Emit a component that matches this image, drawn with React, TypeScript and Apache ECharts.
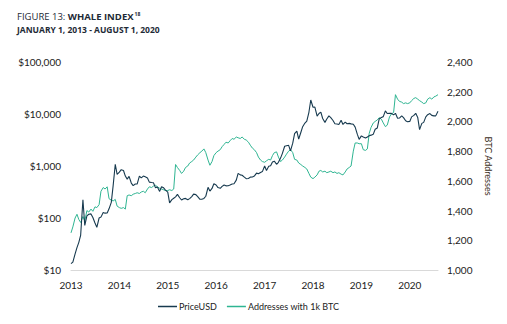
import React, { useEffect, useRef } from "react";
import * as echarts from "echarts";

// Semi-monthly samples (1st and 15th of each month), 2013-01-01 .. 2020-08-01
const price2013 = [13.3, 14.2, 20.4, 27, 34, 47, 225, 72, 110, 118, 120, 102, 80, 66, 100, 104, 128, 124, 125, 150, 200, 420, 1080, 690];
const price2014 = [760, 850, 820, 640, 560, 630, 470, 420, 450, 450, 640, 590, 640, 620, 590, 490, 480, 475, 380, 395, 325, 400, 380, 345];
const price2015 = [315, 195, 225, 240, 255, 285, 245, 222, 235, 238, 225, 236, 258, 288, 282, 258, 229, 230, 238, 262, 390, 330, 370, 455];
const price2016 = [432, 385, 372, 405, 432, 415, 418, 430, 450, 455, 535, 720, 675, 665, 610, 570, 575, 610, 615, 640, 730, 710, 750, 780];
const price2017 = [1000, 820, 985, 1010, 1190, 1240, 1080, 1180, 1420, 1750, 2400, 2450, 2500, 1950, 2750, 4200, 4700, 3300, 4400, 5700, 6700, 7300, 10800, 18600];
const price2018 = [13500, 13600, 9100, 10200, 10900, 8200, 6900, 8000, 9200, 8500, 7500, 6500, 6400, 6300, 7600, 6300, 7000, 6500, 6600, 6450, 6350, 5600, 4100, 3250];
const price2019 = [3800, 3600, 3450, 3620, 3820, 3920, 4100, 5100, 5400, 8000, 8600, 8900, 11500, 10200, 10300, 10300, 9600, 10300, 8300, 8350, 9200, 8500, 7400, 7100];
const price2020 = [7200, 8800, 9400, 10300, 8600, 5000, 6600, 6900, 8800, 9700, 10200, 9400, 9200, 9200, 11300];

const addr2013 = [1250, 1290, 1350, 1375, 1340, 1320, 1360, 1330, 1400, 1390, 1410, 1395, 1425, 1420, 1440, 1530, 1555, 1545, 1560, 1480, 1470, 1465, 1475, 1430];
const addr2014 = [1420, 1415, 1420, 1410, 1500, 1505, 1500, 1510, 1515, 1520, 1515, 1525, 1530, 1520, 1545, 1560, 1555, 1565, 1570, 1560, 1550, 1545, 1540, 1535];
const addr2015 = [1535, 1540, 1535, 1545, 1710, 1690, 1670, 1650, 1665, 1690, 1700, 1720, 1730, 1740, 1760, 1775, 1790, 1800, 1815, 1790, 1740, 1705, 1730, 1770];
const addr2016 = [1790, 1800, 1810, 1830, 1845, 1860, 1855, 1870, 1885, 1880, 1895, 1890, 1885, 1895, 1880, 1875, 1860, 1840, 1820, 1810, 1790, 1760, 1740, 1730];
const addr2017 = [1725, 1735, 1745, 1740, 1770, 1790, 1795, 1760, 1730, 1740, 1760, 1780, 1800, 1810, 1790, 1745, 1740, 1720, 1710, 1700, 1690, 1680, 1650, 1625];
const addr2018 = [1615, 1625, 1640, 1665, 1670, 1660, 1665, 1655, 1660, 1665, 1655, 1660, 1650, 1655, 1645, 1640, 1660, 1680, 1690, 1700, 1800, 1855, 1855, 1850];
const addr2019 = [1850, 1810, 1805, 1815, 1920, 1960, 1990, 2000, 2010, 2025, 2015, 1990, 1965, 1975, 2030, 2050, 2060, 2180, 2150, 2135, 2130, 2120, 2125, 2120];
const addr2020 = [2125, 2140, 2155, 2160, 2150, 2140, 2130, 2120, 2125, 2150, 2160, 2150, 2165, 2170, 2180];

const years = [2013, 2014, 2015, 2016, 2017, 2018, 2019, 2020];
const leftTicks = [10, 100, 1000, 10000, 100000];
const seriesNames = ["PriceUSD", "Addresses with 1k BTC"];

const priceValues = [...price2013, ...price2014, ...price2015, ...price2016, ...price2017, ...price2018, ...price2019, ...price2020];
const addrValues = [...addr2013, ...addr2014, ...addr2015, ...addr2016, ...addr2017, ...addr2018, ...addr2019, ...addr2020];

function buildDates(): string[] {
  const out: string[] = [];
  for (const y of years) {
    for (let m = 1; m <= 12; m++) {
      const mm = m < 10 ? "0" + m : "" + m;
      out.push(`${y}-${mm}-01`);
      if (y === 2020 && m === 8) return out;
      out.push(`${y}-${mm}-15`);
    }
  }
  return out;
}
const dates = buildDates();

const NAVY = "#173a4f";
const TEAL = "#2fb592";
const TEXT = "#222222";
const FONT = "Lato, 'Open Sans', sans-serif";
const TFONT = "'Open Sans', Lato, sans-serif";

export default function App() {
  const ref = useRef<HTMLDivElement>(null);
  useEffect(() => {
    if (!ref.current) return;
    const chart = echarts.init(ref.current, undefined, { renderer: "svg" });
    chart.setOption({
      animation: false,
      backgroundColor: "#ffffff",
      textStyle: { fontFamily: FONT },
      graphic: [
        {
          type: "text",
          left: 17,
          top: 11,
          style: {
            text: "{a|FIGURE 13: }{b|WHALE INDEX}{c|18}",
            rich: {
              a: { fontSize: 9.5, fontFamily: TFONT, fill: "#1d2a36" },
              b: { fontSize: 9.5, fontFamily: TFONT, fontWeight: "bold", fill: "#1d2a36" },
              c: { fontSize: 5, fontFamily: TFONT, fontWeight: "bold", fill: "#1d2a36", verticalAlign: "top", padding: [0, 0, 6, 1] },
            },
          },
        },
        {
          type: "text",
          left: 17,
          top: 25,
          style: {
            text: "JANUARY 1, 2013 - AUGUST 1, 2020",
            fontSize: 8.5,
            fontWeight: "bold",
            fontFamily: TFONT,
            fill: "#1d2a36",
          },
        },
      ],
      legend: {
        left: 153,
        top: 297,
        itemGap: 10,
        itemWidth: 19,
        itemHeight: 1.5,
        icon: "rect",
        textStyle: { fontSize: 9, color: TEXT, fontFamily: FONT, padding: [0, 0, 0, -3] },
        data: [
          { name: seriesNames[0], itemStyle: { color: NAVY } },
          { name: seriesNames[1], itemStyle: { color: TEAL } },
        ],
      },
      grid: { left: 71, right: 69, top: 62, bottom: 54 },
      xAxis: {
        type: "time",
        min: "2013-01-01",
        max: "2020-08-01",
        minInterval: 365 * 24 * 3600 * 1000,
        maxInterval: 366 * 24 * 3600 * 1000,
        axisLine: { show: true, lineStyle: { color: "#d9d9d9", width: 1 } },
        axisTick: { show: false },
        splitLine: { show: false },
        axisLabel: {
          formatter: "{yyyy}",
          fontSize: 10,
          color: TEXT,
          fontFamily: FONT,
          margin: 10,
          showMaxLabel: false,
        },
      },
      yAxis: [
        {
          type: "log",
          logBase: 10,
          min: leftTicks[0],
          max: leftTicks[leftTicks.length - 1],
          axisLine: { show: false },
          axisTick: { show: false },
          splitLine: { show: false },
          axisLabel: {
            fontSize: 10,
            color: TEXT,
            fontFamily: FONT,
            margin: 10,
            formatter: (v: number) => "$" + Math.round(v).toLocaleString("en-US"),
          },
        },
        {
          type: "value",
          min: 1000,
          max: 2400,
          interval: 200,
          position: "right",
          name: "BTC Addresses",
          nameLocation: "middle",
          nameRotate: -90,
          nameGap: 46,
          nameTextStyle: { fontSize: 9, color: "#3a2e22", fontFamily: FONT },
          axisLine: { show: false },
          axisTick: { show: false },
          splitLine: { show: false },
          axisLabel: {
            fontSize: 10,
            color: TEXT,
            fontFamily: FONT,
            margin: 9,
            formatter: (v: number) => v.toLocaleString("en-US"),
          },
        },
      ],
      series: [
        {
          name: seriesNames[1],
          type: "line",
          yAxisIndex: 1,
          showSymbol: false,
          symbol: "none",
          lineStyle: { color: TEAL, width: 1 },
          itemStyle: { color: TEAL },
          data: dates.map((d, i) => [d, addrValues[i]]),
        },
        {
          name: seriesNames[0],
          type: "line",
          yAxisIndex: 0,
          showSymbol: false,
          symbol: "none",
          lineStyle: { color: NAVY, width: 1.1 },
          itemStyle: { color: NAVY },
          data: dates.map((d, i) => [d, priceValues[i]]),
        },
      ],
    });
    return () => chart.dispose();
  }, []);
  return <div ref={ref} style={{ width: 507, height: 324, position: "absolute", left: 0, top: 0 }} />;
}
